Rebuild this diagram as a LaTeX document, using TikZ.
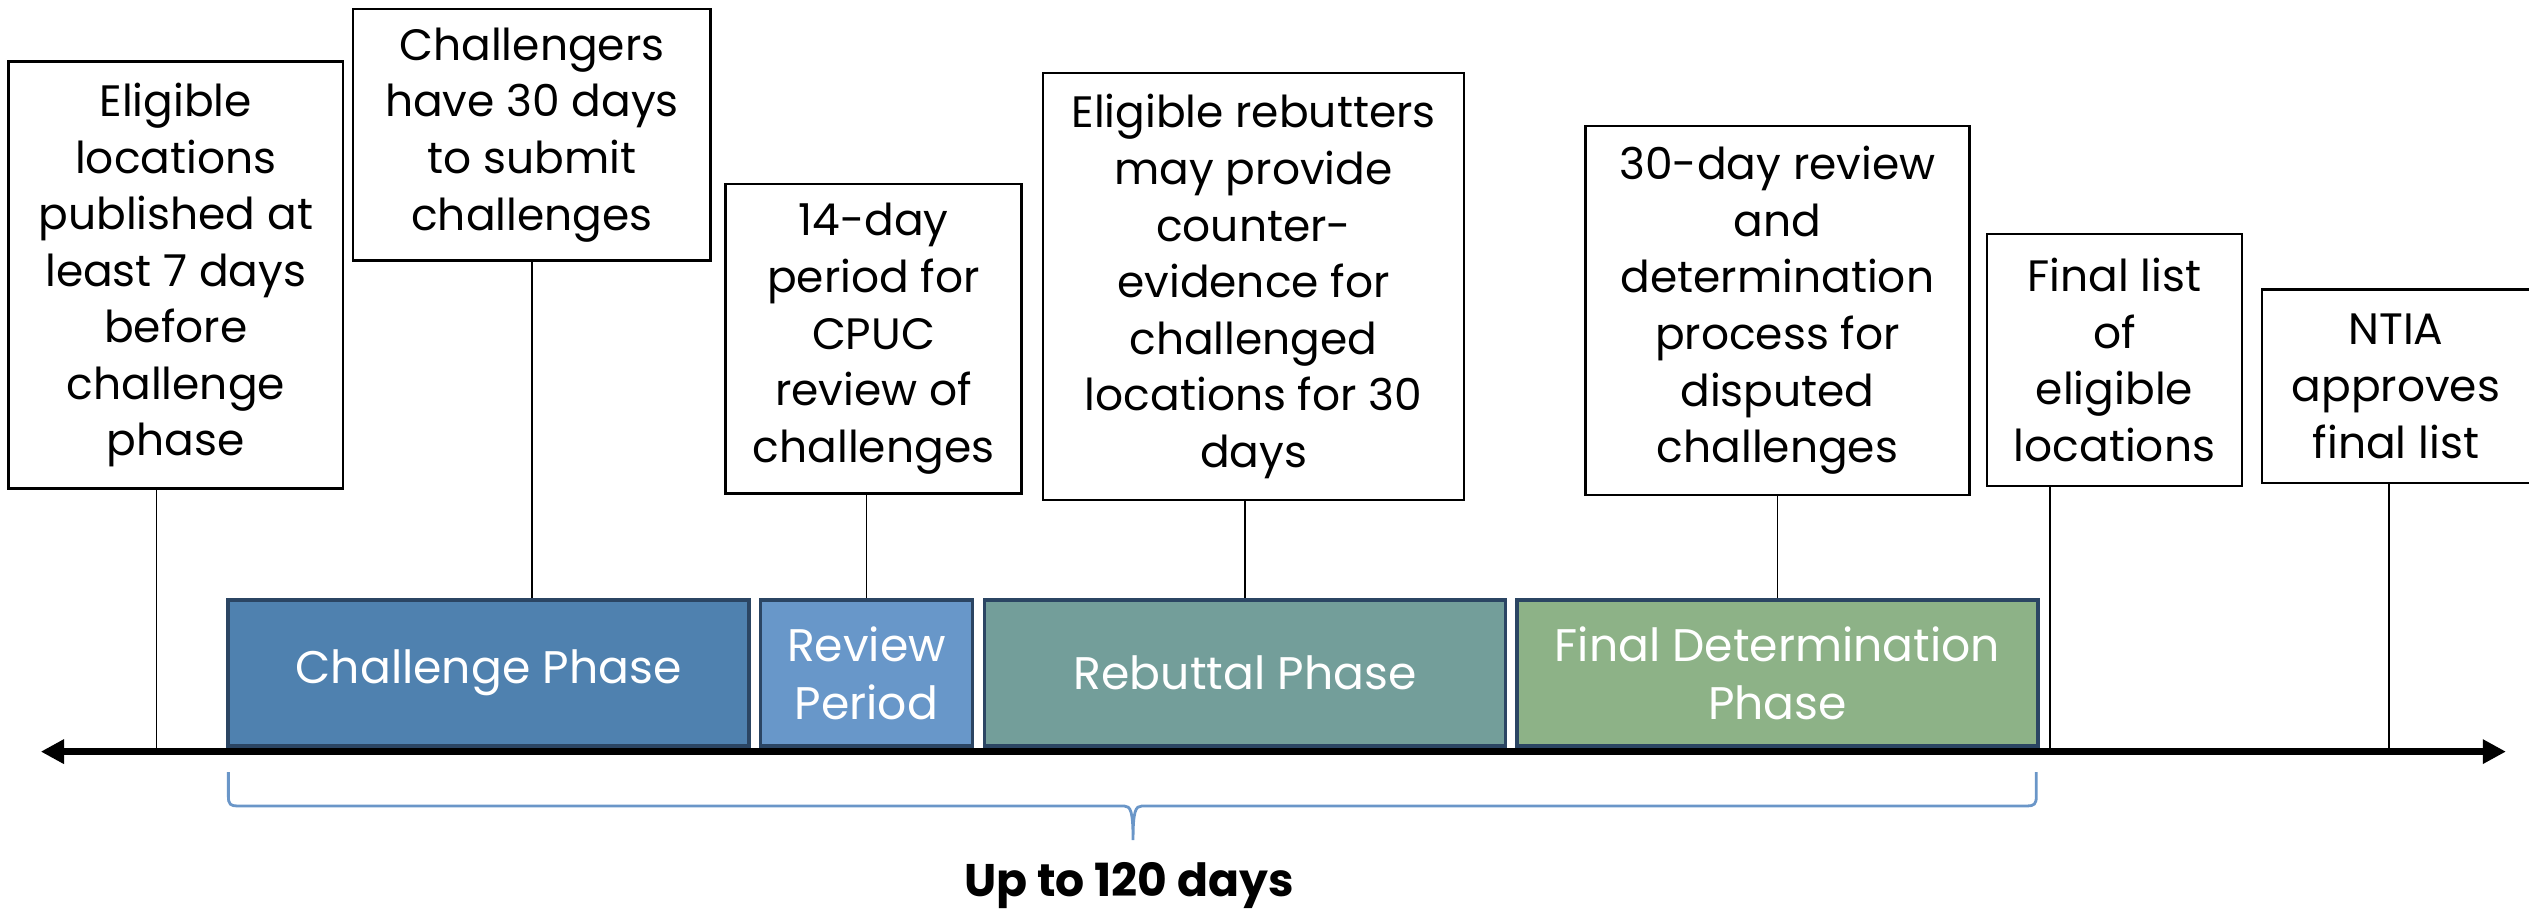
\documentclass[tikz,border=0pt]{standalone}
\usepackage{fontspec}
\setmainfont{Poppins}
\usetikzlibrary{arrows.meta,positioning}

\definecolor{chalblue}{HTML}{4F81AF}
\definecolor{revblue}{HTML}{6897C9}
\definecolor{rebgreen}{HTML}{739E9A}
\definecolor{fdgreen}{HTML}{8DB287}
\definecolor{phaseline}{HTML}{2B4563}
\definecolor{bracecol}{HTML}{6A96C8}
\newcommand{\upx}{0.16129mm}

\begin{document}
\begin{tikzpicture}[x=\upx,y=-\upx,
	note/.style 2 args={draw=black,line width=0.7pt,align=center,inner sep=1pt,
		minimum width={#1*\upx},minimum height={#2*\upx},
		font=\fontsize{12.5}{16.1}\selectfont},
	phase/.style 2 args={draw=phaseline,line width=1pt,fill=#2,text=white,align=center,
		minimum width={#1*\upx},minimum height={90.5*\upx},
		font=\fontsize{13}{16.5}\selectfont},
	leader/.style={line width=0.5pt},
	timeline/.style={line width=2.2pt,{Triangle[length=6.6pt,width=6.6pt]}-{Triangle[length=6.6pt,width=6.6pt]}},
	brace/.style={draw=bracecol,line width=0.8pt}]
	\useasboundingbox (0,0) rectangle (1568,565);

	\node[note={207.3}{264.8}] (elig) at (109,170.6) {Eligible\\locations\\published at\\least 7 days\\before\\challenge\\phase};
	\node[note={221.6}{156}] (chg) at (329.8,83.6) {Challengers\\have 30 days\\to submit\\challenges};
	\node[note={183.6}{192}] (cpuc) at (541.6,210) {14-day\\period for\\CPUC\\review of\\challenges};
	\node[note={261}{264.6}] (rebut) at (777.2,177.7) {Eligible rebutters\\may provide\\counter-\\evidence for\\challenged\\locations for 30\\days};
	\node[note={238}{229}] (determ) at (1102,192.5) {30-day review\\and\\determination\\process for\\disputed\\challenges};
	\node[note={158}{156.5}] (final) at (1311,223.2) {Final list\\of\\eligible\\locations};
	\node[note={166}{120}] (ntia) at (1485.5,239.5) {NTIA\\approves\\final list};

	\node[phase={323}{chalblue}] (chal) at (302.9,417.2) {Challenge Phase};
	\node[phase={131.5}{revblue}] (rev) at (537.25,417.2) {Review\\Period};
	\node[phase={323}{rebgreen}] (reb) at (772,417.2) {Rebuttal Phase};
	\node[phase={323}{fdgreen}] (fd) at (1102,417.2) {Final Determination\\Phase};

	\coordinate (tl) at (25.3,466);
	\coordinate (tr) at (1553.7,466);
	\coordinate (k1) at (97,466);
	\coordinate (k6) at (1271,466);
	\coordinate (k7) at (1481,466);

	\path[leader]
	(elig.south -| k1) edge (k1)
	(final.south -| k6) edge (k6)
	(ntia.south -| k7) edge (k7)
	(chg.south) edge (chg.south |- chal.north)
	(rev.north |- cpuc.south) edge (rev.north)
	(reb.north |- rebut.south) edge (reb.north)
	(determ.south) edge (fd.north);

	\draw[timeline] (tl) -- (tr);

	\draw[brace] (141.6,478.7) -- (141.6,494) .. controls (141.6,498.5) and (143,499.7) .. (147,499.7)
		-- (697,499.7) .. controls (701,499.7) and (702.5,503) .. (702.5,520.8)
		.. controls (702.5,503) and (704,499.7) .. (708,499.7)
		-- (1257,499.7) .. controls (1261,499.7) and (1262.5,498.5) .. (1262.5,494) -- (1262.5,478.7);

	\node[anchor=base,font=\bfseries\fontsize{13}{15}\selectfont] (upto) at (700,556) {Up to 120 days};
\end{tikzpicture}
\end{document}
